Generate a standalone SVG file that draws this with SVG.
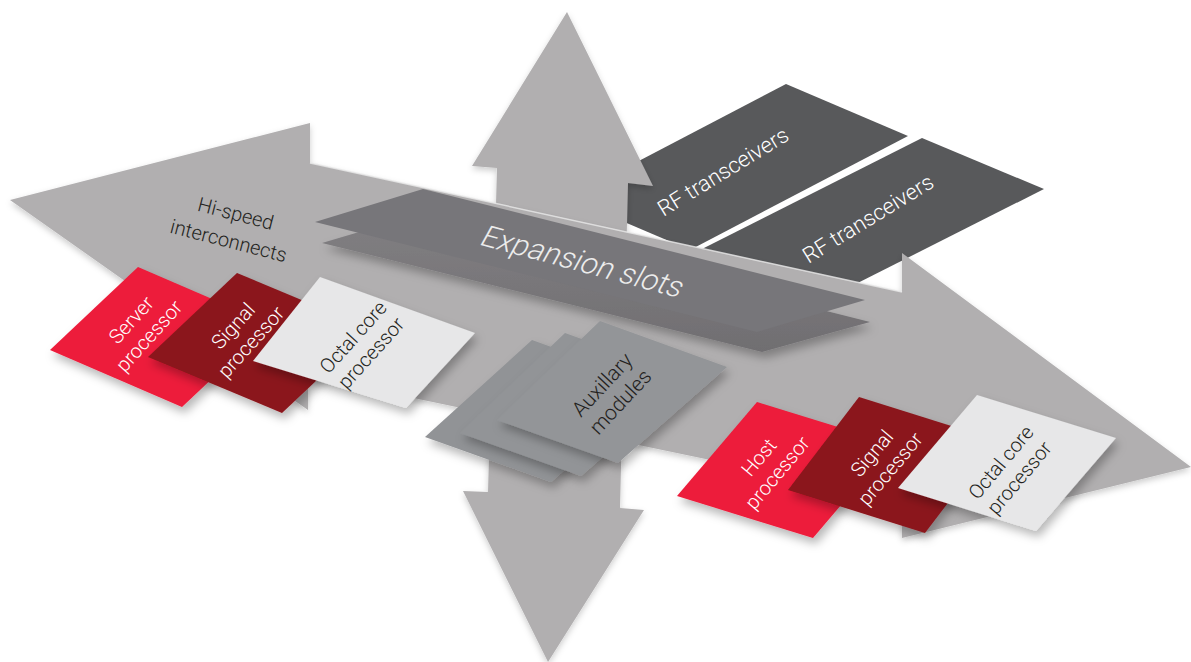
<svg xmlns="http://www.w3.org/2000/svg" width="1191" height="662" viewBox="0 0 1191 662">
<defs>
<style>
.arrow{fill:#b1afb0}
.rf{fill:#58595b}
.lbl{font-family:Roboto,"Liberation Sans",sans-serif;font-weight:300}
.wt{fill:#ffffff}
.dk{fill:#231f20}
.card{filter:url(#sh)}
</style>
<filter id="sh" x="-20%" y="-20%" width="150%" height="150%">
<feDropShadow dx="3" dy="6" stdDeviation="5" flood-color="#000" flood-opacity="0.28"/>
</filter>
<filter id="sh2" x="-10%" y="-10%" width="130%" height="130%">
<feDropShadow dx="0" dy="3" stdDeviation="3" flood-color="#000" flood-opacity="0.2"/>
</filter>
<linearGradient id="expB" x1="0" y1="0" x2="0" y2="1">
<stop offset="0" stop-color="#828083"/>
<stop offset="1" stop-color="#706e71"/>
</linearGradient>
</defs>

<g id="rf-transceivers-1">
<polygon class="rf" points="786,84 908,136 690,250 568,198"/>
<text class="lbl wt" font-size="22" text-anchor="middle" transform="translate(727,178) rotate(-31.5)">RF transceivers</text>
</g>
<g id="rf-transceivers-2">
<polygon class="rf" points="922,138 1044,189 822,301 700,250"/>
<text class="lbl wt" font-size="22" text-anchor="middle" transform="translate(872,225) rotate(-31.5)">RF transceivers</text>
</g>

<g id="connectors">
<polygon class="arrow" filter="url(#sh2)" points="567,12 653,186 628,183 620,508 644,510 548,662 463,491 488,492 497,168 472,166"/>
<polygon class="arrow" filter="url(#sh2)" points="10,200 310,123 310,163 902,292 902,253 1191,467 902,538 902,500 308,376 308,410"/>
<polyline points="310,163 902,292" fill="none" stroke="#e8e8e8" stroke-width="1.5" opacity="0.8"/>
</g>

<g id="hi-speed">
<text class="lbl dk" font-size="20" text-anchor="middle" transform="translate(232,228) rotate(14.5)"><tspan x="0" y="-8">Hi-speed</tspan><tspan x="0" y="20">interconnects</tspan></text>
</g>

<g id="expansion-slots">
<polygon fill="url(#expB)" filter="url(#sh)" points="322,243 430,211 870,322 762,352"/>
<polygon fill="#77767a" points="315,222 423,189 865,300 757,332"/>
<text class="lbl" fill="#ececec" font-size="30" text-anchor="middle" transform="translate(578,271) rotate(15) skewX(-14)">Expansion slots</text>
</g>

<g id="auxillary-modules">
<polygon class="card" fill="#919396" points="532,340 659,386 551,482 425,437"/>
<polygon class="card" fill="#929497" points="565,333 692,379 581,476 460,433"/>
<polygon class="card" fill="#939598" points="600,321 727,367 618,463 497,420"/>
<text class="lbl dk" font-size="21" text-anchor="middle" transform="translate(611,393) rotate(-47)"><tspan x="0" y="-5">Auxillary</tspan><tspan x="0" y="20">modules</tspan></text>
</g>

<g id="server-processor">
<polygon class="card" fill="#ed1b3a" points="50,350 138,267 270,324 182,407"/>
<text class="lbl wt" font-size="20" text-anchor="middle" transform="translate(140,328) rotate(-48)"><tspan x="0" y="-5">Server</tspan><tspan x="0" y="19">processor</tspan></text>
</g>
<g id="signal-processor-1">
<polygon class="card" fill="#8b151b" points="148,357 237,273 371,329 282,413"/>
<text class="lbl wt" font-size="20" text-anchor="middle" transform="translate(242,334) rotate(-48)"><tspan x="0" y="-5">Signal</tspan><tspan x="0" y="19">processor</tspan></text>
</g>
<g id="octal-core-processor-1">
<polygon class="card" fill="#e7e7e8" points="253,361 320,277 475,333 406,408"/>
<text class="lbl dk" font-size="20" text-anchor="middle" transform="translate(362,345) rotate(-48)"><tspan x="0" y="-5">Octal core</tspan><tspan x="0" y="19">processor</tspan></text>
</g>

<g id="host-processor">
<polygon class="card" fill="#ed1b3a" points="677,496 757,402 893,444 813,538"/>
<text class="lbl wt" font-size="20" text-anchor="middle" transform="translate(768,465) rotate(-50)"><tspan x="0" y="-5">Host</tspan><tspan x="0" y="19">processor</tspan></text>
</g>
<g id="signal-processor-2">
<polygon class="card" fill="#8b151b" points="788,490 859,397 996,440 925,533"/>
<text class="lbl wt" font-size="20" text-anchor="middle" transform="translate(881,461) rotate(-50)"><tspan x="0" y="-5">Signal</tspan><tspan x="0" y="19">processor</tspan></text>
</g>
<g id="octal-core-processor-2">
<polygon class="card" fill="#e7e7e8" points="898,488 977,395 1116,438 1036,531"/>
<text class="lbl dk" font-size="20" text-anchor="middle" transform="translate(1010,470) rotate(-50)"><tspan x="0" y="-5">Octal core</tspan><tspan x="0" y="19">processor</tspan></text>
</g>
</svg>
